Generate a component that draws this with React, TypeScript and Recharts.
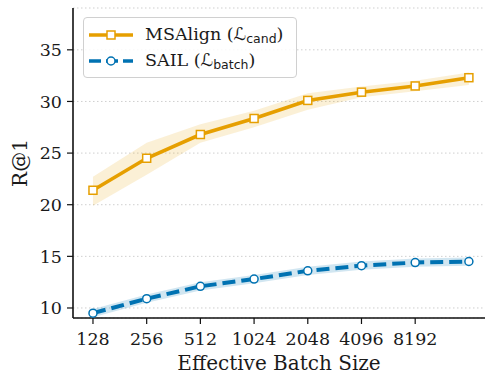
import {
  ComposedChart,
  Area,
  Line,
  XAxis,
  YAxis,
  CartesianGrid,
  Label,
} from "recharts";

const batchSizes = [128, 256, 512, 1024, 2048, 4096, 8192, 16384];
const tickLabels = ["128", "256", "512", "1024", "2048", "4096", "8192"];
const yTicks = [10, 15, 20, 25, 30, 35];

const msalign = [21.4, 24.5, 26.8, 28.35, 30.1, 30.9, 31.5, 32.3];
const msalignLo = [19.9, 22.9, 26.0, 27.5, 29.2, 30.4, 31.0, 31.6];
const msalignHi = [22.7, 26.0, 27.8, 29.1, 30.8, 31.45, 32.0, 32.8];

const sail = [9.5, 10.9, 12.1, 12.8, 13.6, 14.1, 14.4, 14.5];
const sailLo = [9.1, 10.5, 11.7, 12.4, 13.2, 13.7, 14.0, 14.1];
const sailHi = [9.9, 11.3, 12.5, 13.2, 14.0, 14.5, 14.8, 14.9];

const ORANGE = "#E69F00";
const BLUE = "#0072B2";
const SERIF = "DejaVu Serif, serif";
const SANS = "DejaVu Sans, sans-serif";

const data = batchSizes.map((b, i) => ({
  idx: i,
  batch: b,
  msalign: msalign[i],
  msalignBand: [msalignLo[i], msalignHi[i]],
  sail: sail[i],
  sailBand: [sailLo[i], sailHi[i]],
}));

const SquareDot = (props: any) => {
  const { cx, cy } = props;
  if (cx == null || cy == null) return null;
  return (
    <rect x={cx - 4} y={cy - 4} width={8} height={8} fill="#fff" stroke={ORANGE} strokeWidth={1.5} />
  );
};

const CircleDot = (props: any) => {
  const { cx, cy } = props;
  if (cx == null || cy == null) return null;
  return <circle cx={cx} cy={cy} r={4} fill="#fff" stroke={BLUE} strokeWidth={1.5} />;
};

function LegendBox() {
  const row = (color: string, dash: string | undefined, square: boolean, name: string, sub: string) => (
    <div style={{ display: "flex", alignItems: "center", height: 26 }}>
      <svg width={50} height={14} style={{ marginLeft: 4 }}>
        <line x1={1} y1={7} x2={45} y2={7} stroke={color} strokeWidth={3.6} strokeDasharray={dash} />
        {square ? (
          <rect x={19} y={3} width={8} height={8} fill="#fff" stroke={color} strokeWidth={1.5} />
        ) : (
          <circle cx={23} cy={7} r={4} fill="#fff" stroke={color} strokeWidth={1.5} />
        )}
      </svg>
      <span style={{ marginLeft: 7, fontFamily: SERIF, fontSize: 17.5, color: "#1a1a1a", whiteSpace: "nowrap" }}>
        {name} (<span style={{ fontFamily: SANS, fontStyle: "italic" }}>ℒ</span>
        <sub style={{ fontFamily: SANS, fontSize: 12.5, verticalAlign: "-3px" }}>{sub}</sub>)
      </span>
    </div>
  );
  return (
    <div
      style={{
        position: "absolute",
        left: 83,
        top: 17,
        background: "rgba(255,255,255,0.85)",
        border: "1px solid #d0d0d0",
        borderRadius: 4,
        padding: "4px 0 3px 0",
        width: 214,
        boxSizing: "border-box",
      }}
    >
      {row(ORANGE, undefined, true, "MSAlign", "cand")}
      {row(BLUE, "12 5", false, "SAIL", "batch")}
    </div>
  );
}

export default function App() {
  return (
    <div style={{ position: "absolute", left: 0, top: 0, width: 485, height: 375, background: "#fff" }}>
      <ComposedChart width={485} height={375} data={data} margin={{ top: 8, right: 0, bottom: 0, left: 0 }}>
        <CartesianGrid vertical={false} stroke="#cfcfcf" strokeDasharray="1.5 2.5" />
        <XAxis
          dataKey="idx"
          type="number"
          domain={[-0.372, 7.3]}
          ticks={[0, 1, 2, 3, 4, 5, 6]}
          tickFormatter={(v) => tickLabels[v] ?? ""}
          height={57}
          tickSize={6}
          tickMargin={9}
          allowDataOverflow
          axisLine={{ stroke: "#111", strokeWidth: 1.6 }}
          tickLine={{ stroke: "#111", strokeWidth: 1.2 }}
          tick={{ fontFamily: SERIF, fontSize: 17.5, fill: "#1a1a1a" }}
        >
          <Label
            content={({ viewBox }: any) => (
              <text
                x={viewBox.x + viewBox.width / 2}
                y={viewBox.y + 52}
                textAnchor="middle"
                fontFamily={SERIF}
                fontSize={20}
                fill="#1a1a1a"
              >
                Effective Batch Size
              </text>
            )}
          />
        </XAxis>
        <YAxis
          type="number"
          domain={[9.03, 39.05]}
          ticks={yTicks}
          width={73}
          tickSize={6}
          tickMargin={5}
          allowDataOverflow
          axisLine={{ stroke: "#111", strokeWidth: 1.6 }}
          tickLine={{ stroke: "#111", strokeWidth: 1.2 }}
          tick={{ fontFamily: SERIF, fontSize: 17.5, fill: "#1a1a1a" }}
        >
          <Label
            content={({ viewBox }: any) => {
              const cx = 20;
              const cy = viewBox.y + viewBox.height / 2;
              return (
                <text
                  x={cx}
                  y={cy}
                  transform={`rotate(-90, ${cx}, ${cy})`}
                  textAnchor="middle"
                  dominantBaseline="central"
                  fontFamily={SERIF}
                  fontSize={20}
                  fill="#1a1a1a"
                >
                  R@1
                </text>
              );
            }}
          />
        </YAxis>
        <Area
          dataKey="msalignBand"
          type="linear"
          stroke="none"
          fill={ORANGE}
          fillOpacity={0.16}
          isAnimationActive={false}
          activeDot={false}
        />
        <Area
          dataKey="sailBand"
          type="linear"
          stroke="none"
          fill={BLUE}
          fillOpacity={0.18}
          isAnimationActive={false}
          activeDot={false}
        />
        <Line
          dataKey="msalign"
          type="linear"
          stroke={ORANGE}
          strokeWidth={3.6}
          dot={<SquareDot />}
          activeDot={false}
          isAnimationActive={false}
        />
        <Line
          dataKey="sail"
          type="linear"
          stroke={BLUE}
          strokeWidth={4}
          strokeDasharray="13 6"
          dot={<CircleDot />}
          activeDot={false}
          isAnimationActive={false}
        />
      </ComposedChart>
      <LegendBox />
    </div>
  );
}
